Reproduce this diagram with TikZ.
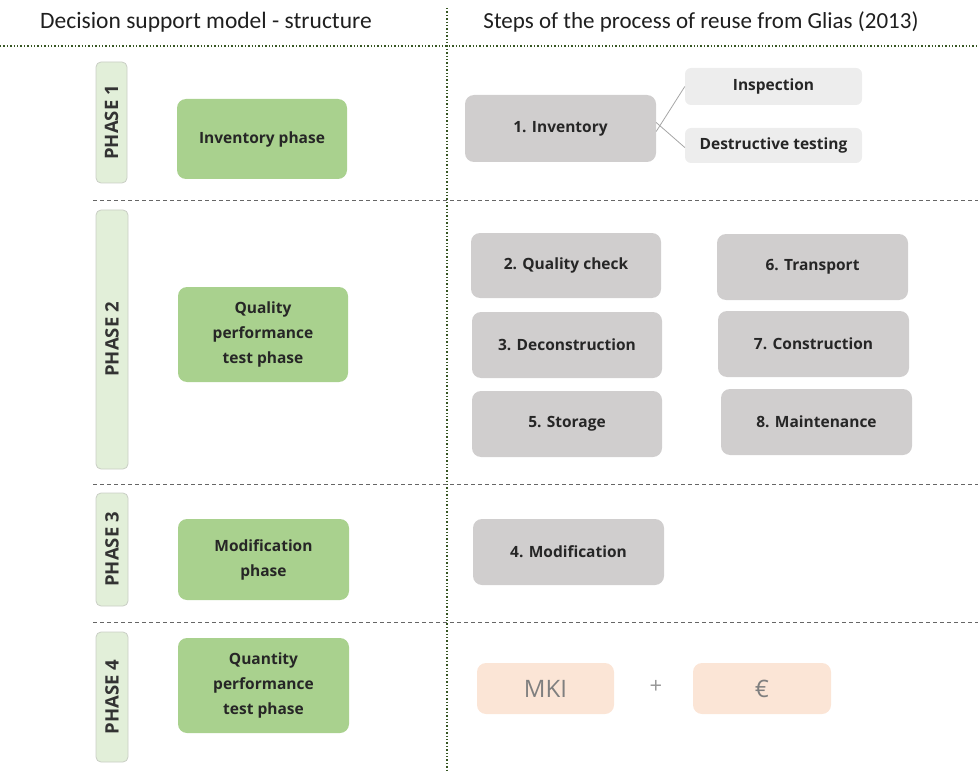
\documentclass[tikz,border=0pt]{standalone}
\usepackage{fontspec}
\setmainfont{Carlito}
\newfontfamily\boxfont{Open Sans}
\definecolor{greenbox}{HTML}{A9D18E}
\definecolor{phasefill}{HTML}{E2EFD9}
\definecolor{phaseline}{HTML}{C9CEC5}
\definecolor{graybox}{HTML}{D0CECE}
\definecolor{lightgray}{HTML}{EDEDED}
\definecolor{peach}{HTML}{FBE5D6}
\definecolor{divgreen}{HTML}{375623}
\definecolor{textgray}{HTML}{7F7F7F}
\begin{document}
\begin{tikzpicture}[x=1pt,y=-1pt,
  box/.style={rounded corners=9pt, inner sep=0pt, align=center, font=\boxfont\bfseries\fontsize{15.5}{25}\selectfont, text=black!85},
  greenb/.style={box, fill=greenbox},
  grayb/.style={box, fill=graybox},
  lgrayb/.style={box, fill=lightgray},
  peachb/.style={box, fill=peach, text=textgray, font=\boxfont\fontsize{24}{28}\selectfont},
  phaseb/.style={rounded corners=5pt, fill=phasefill, draw=phaseline, line width=0.8pt},
  phasetext/.style={rotate=90, font=\boxfont\bfseries\fontsize{18.5}{20}\selectfont, text=black!80},
  divider/.style={draw=black!60, dashed, dash pattern=on 4pt off 3pt, line width=0.8pt},
  head/.style={font=\fontsize{23.5}{26}\selectfont, text=black!88}
]
\useasboundingbox (0,0) rectangle (978,773);
% headers and dividers
\node[head] (h1) at (206,22) {Decision support model - structure};
\node[head, font=\fontsize{23}{26}\selectfont] (h2) at (701,22) {Steps of the process of reuse from Glias (2013)};
\draw[divgreen, line width=1.4pt, dotted] (0,46) -- (978,46);
\draw[divgreen, line width=1.4pt, dotted] (447,8) -- (447,773);
\draw[divider] (93,200) -- (978,200);
\draw[divider] (93,484) -- (978,484);
\draw[divider] (93,622) -- (978,622);
% phase labels
\draw[phaseb] (96,62) rectangle (127,183);
\node[phasetext] (p1) at (111.5,122.5) {PHASE 1};
\draw[phaseb] (96,210) rectangle (128,469);
\node[phasetext] (p2) at (112,339.5) {PHASE 2};
\draw[phaseb] (96,493) rectangle (128,606);
\node[phasetext] (p3) at (112,549.5) {PHASE 3};
\draw[phaseb] (96,632) rectangle (128,762);
\node[phasetext] (p4) at (112,697) {PHASE 4};
% green boxes
\node[greenb, minimum width=170pt, minimum height=80pt] (g1) at (262,139) {Inventory phase};
\node[greenb, minimum width=170pt, minimum height=95pt] (g2) at (263,334.5) {Quality\\performance\\test phase};
\node[greenb, minimum width=171pt, minimum height=81pt] (g3) at (263.5,559.5) {Modification\\phase};
\node[greenb, minimum width=171pt, minimum height=95pt] (g4) at (263.5,685.5) {Quantity\\performance\\test phase};
% gray boxes
\node[grayb, minimum width=191pt, minimum height=67pt] (s1) at (560.5,128.5) {1. Inventory};
\node[lgrayb, minimum width=177pt, minimum height=37pt, rounded corners=6pt] (ins) at (773.5,86.5) {Inspection};
\node[lgrayb, minimum width=177pt, minimum height=35pt, rounded corners=6pt] (des) at (773.5,145.5) {Destructive testing};
\draw[black!35, line width=0.8pt] ([yshift=-3pt]s1.east) -- (ins.west);
\draw[black!35, line width=0.8pt] ([yshift=6pt]s1.east) -- ([yshift=-2pt]des.west);
\node[grayb, minimum width=190pt, minimum height=65pt] (s2) at (566,265.5) {2. Quality check};
\node[grayb, minimum width=190pt, minimum height=66pt] (s3) at (567,345) {3. Deconstruction};
\node[grayb, minimum width=190pt, minimum height=66pt] (s5) at (567,424) {5. Storage};
\node[grayb, minimum width=191pt, minimum height=66pt] (s6) at (812.5,267) {6. Transport};
\node[grayb, minimum width=191pt, minimum height=66pt] (s7) at (813.5,344) {7. Construction};
\node[grayb, minimum width=191pt, minimum height=66pt] (s8) at (816.5,422) {8. Maintenance};
\node[grayb, minimum width=191pt, minimum height=66pt] (s4) at (568.5,552) {4. Modification};
% cost boxes
\node[peachb, minimum width=137pt, minimum height=51pt] (mki) at (545.5,688.5) {MKI};
\node[font=\boxfont\fontsize{22}{26}\selectfont, text=textgray!80] (plus) at (656,687) {+};
\node[peachb, minimum width=138pt, minimum height=51pt] (eur) at (762,688.5) {€};
\end{tikzpicture}
\end{document}
